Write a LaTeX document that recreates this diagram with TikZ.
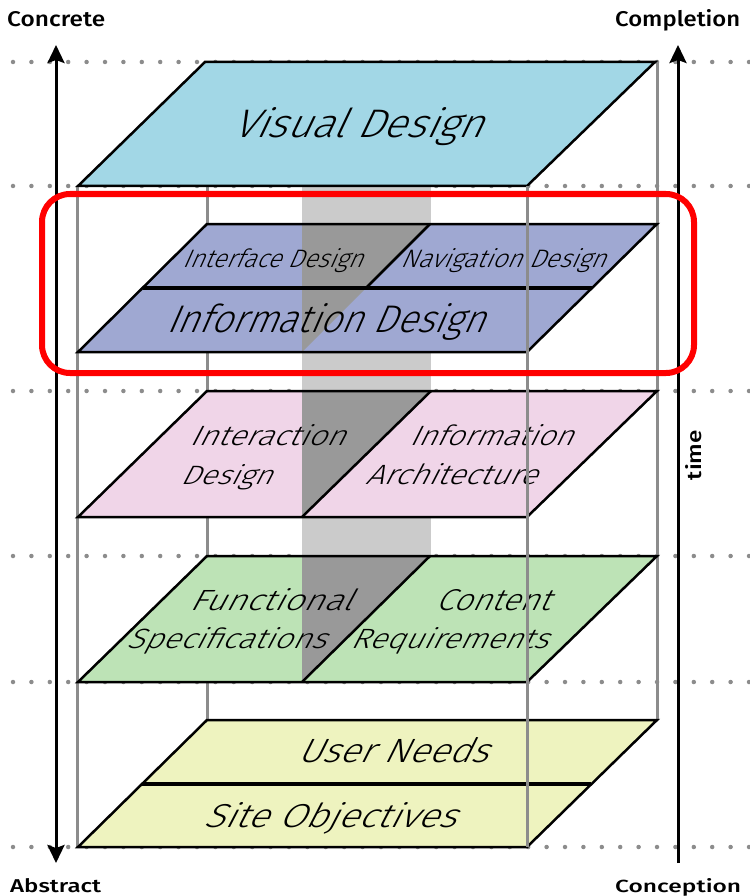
\documentclass[tikz,border=0pt]{standalone}
\usepackage{fontspec}
\usepackage{graphicx}
\usetikzlibrary{arrows.meta}

\newfontfamily\layerfont{Fira Sans}[UprightFont={* Light}, FakeSlant=0.45]
\newfontfamily\axisfont{Fira Sans}[UprightFont={* Medium}]

\definecolor{visualblue}{HTML}{A2D7E6}
\definecolor{infolilac}{HTML}{9FA8D2}
\definecolor{structpink}{HTML}{F0D5E8}
\definecolor{scopegreen}{HTML}{BDE3B6}
\definecolor{strategyyellow}{HTML}{EEF3BF}
\definecolor{bandlight}{HTML}{CBCBCB}
\definecolor{banddark}{HTML}{999999}
\definecolor{framegray}{HTML}{8C8C8C}
\definecolor{dotgray}{HTML}{8C8C8C}
\definecolor{markred}{HTML}{FF0000}

% text squeezed to a given width and height
\newcommand{\layertext}[3]{\resizebox{#1pt}{#2pt}{\layerfont #3}}
\newcommand{\axistext}[3]{\resizebox{#1pt}{#2pt}{\axisfont #3}}

\begin{document}
\begin{tikzpicture}[x=1pt, y=-1pt,
  guide/.style={draw=dotgray, line width=4.5pt, line cap=round, dash pattern=on 0pt off 18.4pt},
  frameline/.style={draw=framegray, line width=3pt},
  plane/.style={draw=black, line width=2.5pt},
  seam/.style={draw=black, line width=4pt},
  divider/.style={draw=black, line width=2.5pt},
  layerlabel/.style={inner sep=0pt, anchor=base west},
  axislabel/.style={inner sep=0pt, anchor=base west},
  axisline/.style={draw=black, line width=3pt},
]
\useasboundingbox (0,0) rectangle (749,896);

% horizontal dotted guides
\foreach \gy/\gname in {62/g1, 186/g2, 391/g3, 556/g4, 682/g5, 847/g6} {
  \coordinate (\gname-w) at (13,\gy);
  \coordinate (\gname-e) at (749,\gy);
  \draw[guide] (\gname-w) -- (\gname-e);
}

% shaded band running through the upper planes
\coordinate (band-nw) at (302,186);
\coordinate (band-se) at (431,556);
\fill[bandlight] (band-nw) rectangle (band-se);

% back edges of the frame
\coordinate (fl-top) at (77,186);   \coordinate (fl-bot) at (77,847);
\coordinate (bl-top) at (207,186);  \coordinate (bl-bot) at (207,720);
\coordinate (br-top) at (657,62);   \coordinate (br-bot) at (657,720);
\draw[frameline] (fl-top) -- (fl-bot);
\draw[frameline] (bl-top) -- (bl-bot);
\draw[frameline] (br-top) -- (br-bot);

% axes
\coordinate (concrete-end) at (56,45);
\coordinate (abstract-end) at (56,863);
\coordinate (completion-end) at (678,45);
\coordinate (conception-end) at (678,863);
\draw[axisline, {Stealth[length=18pt, width=17pt, inset=3pt]}-{Stealth[length=18pt, width=17pt, inset=3pt]}] (abstract-end) -- (concrete-end);
\draw[axisline, -{Stealth[length=18pt, width=17pt, inset=3pt]}] (conception-end) -- (completion-end);

% surface plane
\coordinate (vis-a) at (205,62);  \coordinate (vis-b) at (655,62);
\coordinate (vis-c) at (527,186); \coordinate (vis-d) at (78,186);
\fill[visualblue] (vis-a) -- (vis-b) -- (vis-c) -- (vis-d) -- cycle;
\draw[plane] (vis-a) -- (vis-b) -- (vis-c) -- (vis-d) -- cycle;
\node[layerlabel] (visual) at (232,138) {\layertext{250}{30}{Visual Design}};

% skeleton plane
\coordinate (sk-a) at (207,224);  \coordinate (sk-b) at (657,224);
\coordinate (sk-c) at (527,352);  \coordinate (sk-d) at (78,352);
\coordinate (sk-ml) at (142.5,288); \coordinate (sk-mr) at (591.5,288);
\coordinate (sk-dt) at (430,224); \coordinate (sk-dm) at (366,288);
\fill[infolilac] (sk-a) -- (sk-b) -- (sk-c) -- (sk-d) -- cycle;
\fill[banddark] (302,224) -- (sk-dt) -- (302,352) -- cycle;
\node[layerlabel] (interface) at (182,267) {\layertext{180}{19}{Interface Design}};
\node[layerlabel] (navigation) at (400,267) {\layertext{205}{19}{Navigation Design}};
\node[layerlabel] (information) at (166,332) {\layertext{318}{29}{Information Design}};
\draw[divider] (sk-dt) -- (sk-dm);
\draw[seam] (sk-ml) -- (sk-mr);
\draw[plane] (sk-a) -- (sk-b) -- (sk-c) -- (sk-d) -- cycle;

% structure plane
\coordinate (st-a) at (207,391);  \coordinate (st-b) at (657,391);
\coordinate (st-c) at (527,517);  \coordinate (st-d) at (78,517);
\coordinate (st-dt) at (431,391); \coordinate (st-db) at (302,517);
\fill[structpink] (st-a) -- (st-b) -- (st-c) -- (st-d) -- cycle;
\fill[banddark] (302,391) -- (st-dt) -- (st-db) -- cycle;
\node[layerlabel] (interaction1) at (189,445) {\layertext{155}{21}{Interaction}};
\node[layerlabel] (interaction2) at (180,484) {\layertext{91}{20}{Design}};
\node[layerlabel] (infoarch1) at (409,445) {\layertext{163}{21}{Information}};
\node[layerlabel] (infoarch2) at (365,484) {\layertext{171}{21}{Architecture}};
\draw[divider] (st-dt) -- (st-db);
\draw[plane] (st-a) -- (st-b) -- (st-c) -- (st-d) -- cycle;

% scope plane
\coordinate (sc-a) at (207,556);  \coordinate (sc-b) at (657,556);
\coordinate (sc-c) at (527,682);  \coordinate (sc-d) at (78,682);
\coordinate (sc-dt) at (430,556); \coordinate (sc-db) at (302,682);
\fill[scopegreen] (sc-a) -- (sc-b) -- (sc-c) -- (sc-d) -- cycle;
\fill[banddark] (302,556) -- (sc-dt) -- (sc-db) -- cycle;
\node[layerlabel] (functional1) at (189,610) {\layertext{162}{22}{Functional}};
\node[layerlabel] (functional2) at (126,648) {\layertext{199}{21}{Specifications}};
\node[layerlabel] (content1) at (435,610) {\layertext{114}{21}{Content}};
\node[layerlabel] (content2) at (350,648) {\layertext{197}{21}{Requirements}};
\draw[divider] (sc-dt) -- (sc-db);
\draw[plane] (sc-a) -- (sc-b) -- (sc-c) -- (sc-d) -- cycle;

% strategy plane
\coordinate (sg-a) at (207,720);  \coordinate (sg-b) at (657,720);
\coordinate (sg-c) at (527,847);  \coordinate (sg-d) at (78,847);
\coordinate (sg-ml) at (142,784); \coordinate (sg-mr) at (591,784);
\fill[strategyyellow] (sg-a) -- (sg-b) -- (sg-c) -- (sg-d) -- cycle;
\node[layerlabel] (userneeds) at (297,762) {\layertext{190}{25}{User Needs}};
\node[layerlabel] (siteobj) at (203,827) {\layertext{252}{25}{Site Objectives}};
\draw[seam] (sg-ml) -- (sg-mr);
\draw[plane] (sg-a) -- (sg-b) -- (sg-c) -- (sg-d) -- cycle;

% front edge of the frame, over the planes
\coordinate (fr-top) at (527,186); \coordinate (fr-bot) at (527,847);
\draw[frameline] (fr-top) -- (fr-bot);

% axis captions
\node[axislabel] (concrete) at (7,27) {\axistext{98}{15}{Concrete}};
\node[axislabel] (completion) at (615,27) {\axistext{125}{17}{Completion}};
\node[axislabel] (abstract) at (10,892) {\axistext{91}{14}{Abstract}};
\node[axislabel] (conception) at (615,892) {\axistext{126}{14}{Conception}};
\node[inner sep=0pt, rotate=90] (time) at (694,455) {\axistext{50}{16}{time}};

% highlight around the skeleton plane
\coordinate (hl-nw) at (42,194);
\coordinate (hl-se) at (694,373);
\draw[markred, line width=6pt, rounded corners=28pt] (hl-nw) rectangle (hl-se);
\end{tikzpicture}
\end{document}
